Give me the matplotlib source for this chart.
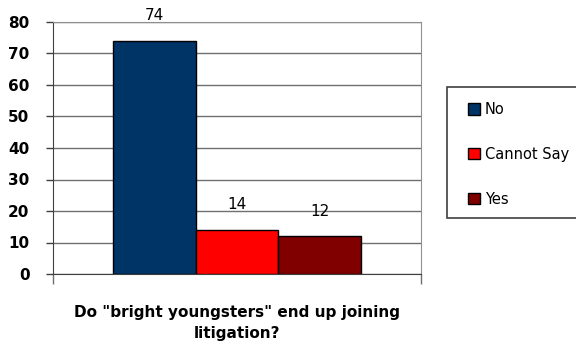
import matplotlib
matplotlib.use("Agg")
import matplotlib.pyplot as plt
from matplotlib.patches import Patch, Rectangle

# Survey responses
answers = ["No", "Cannot Say", "Yes"]
counts = [74, 14, 12]
colors = ["#003366", "#FF0000", "#800000"]
question = 'Do "bright youngsters" end up joining\nlitigation?'

W, H = 576, 347
fig = plt.figure(figsize=(W / 100, H / 100), dpi=100)
ax = fig.add_axes([53 / W, 1 - 274 / H, 368 / W, 252 / H])

positions = [0, 1, 2]
bars = ax.bar(positions, counts, width=1.0, color=colors,
              edgecolor="black", linewidth=1.0, zorder=3)

# Value labels above each bar
for pos, val in zip(positions, counts):
    ax.annotate(str(val), (pos, val), xytext=(0, 18), textcoords="offset points",
                ha="center", va="center", fontsize=11, zorder=4)

ax.set_xlim(-1.23, 3.23)
ax.set_ylim(0, 80)
ax.set_yticks(range(0, 81, 10))
ax.yaxis.grid(True, color="#707070", linewidth=1.0, zorder=0)
ax.set_xticks([-1.23, 3.23])
ax.set_xticklabels([])
ax.tick_params(axis="x", length=7, width=1, color="#707070", direction="out")
ax.tick_params(axis="y", length=5, width=1, color="#404040", direction="out",
               labelsize=11, pad=12)
for lbl in ax.get_yticklabels():
    lbl.set_fontweight("bold")

for side in ["top", "right"]:
    ax.spines[side].set_color("#909090")
ax.spines["left"].set_color("#404040")
ax.spines["bottom"].set_color("#404040")

ax.set_xlabel(question, fontsize=11, fontweight="bold", labelpad=12,
              linespacing=1.5)

# Legend box runs off the right edge of the figure
fig.patches.append(Rectangle((447 / W, 1 - 218 / H), 140 / W, 131 / H,
                             transform=fig.transFigure, facecolor="white",
                             edgecolor="#404040", linewidth=1.2, zorder=1))
handles = [Patch(facecolor=c, edgecolor="black", linewidth=1.0) for c in colors]
leg = fig.legend(handles, answers, loc="upper left",
                 bbox_to_anchor=(468 / W, 1 - 102 / H),
                 prop={"size": 10.5}, frameon=False,
                 handlelength=0.8, handleheight=0.8, handletextpad=0.35,
                 labelspacing=2.05, borderpad=0, borderaxespad=0)

fig.savefig("out.png", dpi=100)
